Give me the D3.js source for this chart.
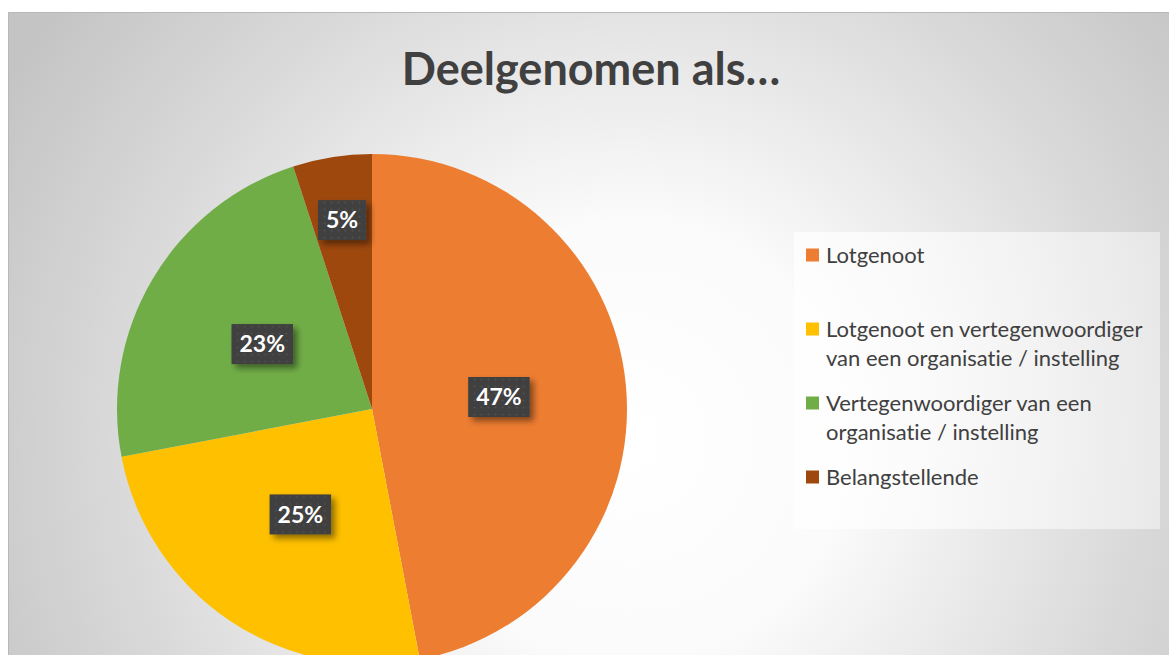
<!DOCTYPE html>
<html>
<head>
<meta charset="utf-8">
<script src="https://cdn.jsdelivr.net/npm/d3@7"></script>
<style>
html,body{margin:0;padding:0;background:#fff;overflow:hidden;}
svg{display:block;}
text{font-variant-ligatures:none;}
</style>
</head>
<body>
<svg id="chart" width="1169" height="655"></svg>
<script>
const title = "Deelgenomen als…";
const categories = [
  "Lotgenoot",
  "Lotgenoot en vertegenwoordiger van een organisatie / instelling",
  "Vertegenwoordiger van een organisatie / instelling",
  "Belangstellende"
];
const legendLines = [
  ["Lotgenoot"],
  ["Lotgenoot en vertegenwoordiger", "van een organisatie / instelling"],
  ["Vertegenwoordiger van een", "organisatie / instelling"],
  ["Belangstellende"]
];
const values = [47, 25, 23, 5];
const colors = ["#ED7D31", "#FFC000", "#70AD47", "#9E480E"];

const W = 1169, H = 655;
const svg = d3.select("#chart");
const defs = svg.append("defs");

// background gradient
const bg = defs.append("radialGradient").attr("id","bgGrad")
  .attr("gradientUnits","userSpaceOnUse")
  .attr("cx",630).attr("cy",440).attr("r",720);
bg.append("stop").attr("offset","0").attr("stop-color","#ffffff");
bg.append("stop").attr("offset","0.3").attr("stop-color","#fbfbfb");
bg.append("stop").attr("offset","0.7").attr("stop-color","#dadada");
bg.append("stop").attr("offset","1").attr("stop-color","#c4c4c4");

// label pattern
const pat = defs.append("pattern").attr("id","dots")
  .attr("patternUnits","userSpaceOnUse").attr("width",7).attr("height",7);
pat.append("rect").attr("width",7).attr("height",7).attr("fill","#3f3f3f");
pat.append("circle").attr("cx",3.5).attr("cy",3.5).attr("r",1.1).attr("fill","#515151");

const shadow = defs.append("filter").attr("id","shadow")
  .attr("x","-30%").attr("y","-30%").attr("width","160%").attr("height","160%");
shadow.append("feDropShadow").attr("dx",4).attr("dy",4).attr("stdDeviation",3)
  .attr("flood-color","#000").attr("flood-opacity",0.45);

const legGrad = defs.append("linearGradient").attr("id","legGrad")
  .attr("x1","0").attr("x2","1").attr("y1","0").attr("y2","0");
legGrad.append("stop").attr("offset","0").attr("stop-color","#ffffff").attr("stop-opacity",0.75);
legGrad.append("stop").attr("offset","1").attr("stop-color","#ffffff").attr("stop-opacity",0.45);

// chart area
svg.append("rect").attr("x",8.5).attr("y",12.5).attr("width",W-8).attr("height",H-12)
  .attr("fill","url(#bgGrad)").attr("stroke","#b8b8b8").attr("stroke-width",1);

svg.append("text").attr("x",591).attr("y",85).attr("text-anchor","middle")
  .attr("font-family","Lato, 'Open Sans', sans-serif").attr("font-weight","bold")
  .attr("font-size",45).attr("fill","#404040").text(title);

// pie
const R = 255, cx = 372, cy = 409;
const pie = d3.pie().sort(null).value(d => d)(values);
const arc = d3.arc().innerRadius(0).outerRadius(R);
const g = svg.append("g").attr("transform",`translate(${cx},${cy})`);
g.selectAll("path").data(pie).join("path")
  .attr("d",arc).attr("fill",(d,i)=>colors[i]);

const total = d3.sum(values);
const labels = g.selectAll("g.lbl").data(pie).join("g").attr("class","lbl")
  .attr("transform", d => {
    const r = (d.value/total < 0.1) ? R*0.75 : R*0.5;
    const a = (d.startAngle + d.endAngle)/2;
    return `translate(${r*Math.sin(a)},${-r*Math.cos(a)})`;
  });
labels.each(function(d){
  const sel = d3.select(this);
  const t = sel.append("text").attr("text-anchor","middle").attr("dy","0.36em")
    .attr("font-family","Lato, 'Open Sans', sans-serif").attr("font-weight","bold")
    .attr("font-size",23).attr("fill","#fff")
    .text(Math.round(d.value/total*100) + "%");
  const bb = t.node().getBBox();
  const w = bb.width + 16, h = 40;
  sel.insert("rect","text").attr("x",-w/2).attr("y",-h/2).attr("width",w).attr("height",h)
    .attr("fill","url(#dots)").attr("filter","url(#shadow)");
});

// legend
svg.append("rect").attr("x",794).attr("y",232).attr("width",366).attr("height",297)
  .attr("fill","url(#legGrad)");
const itemY = [255, 329, 403, 477];
const lg = svg.append("g");
legendLines.forEach((lines,i) => {
  lg.append("rect").attr("x",806).attr("y",itemY[i]-6.5).attr("width",13).attr("height",13)
    .attr("fill",colors[i]);
  lines.forEach((ln,j) => {
    lg.append("text").attr("x",826).attr("y",itemY[i] + j*29).attr("dy","0.35em")
      .attr("font-family","Lato, 'Open Sans', sans-serif").attr("font-size",22)
      .attr("fill","#404040").text(ln);
  });
});
</script>
</body>
</html>
